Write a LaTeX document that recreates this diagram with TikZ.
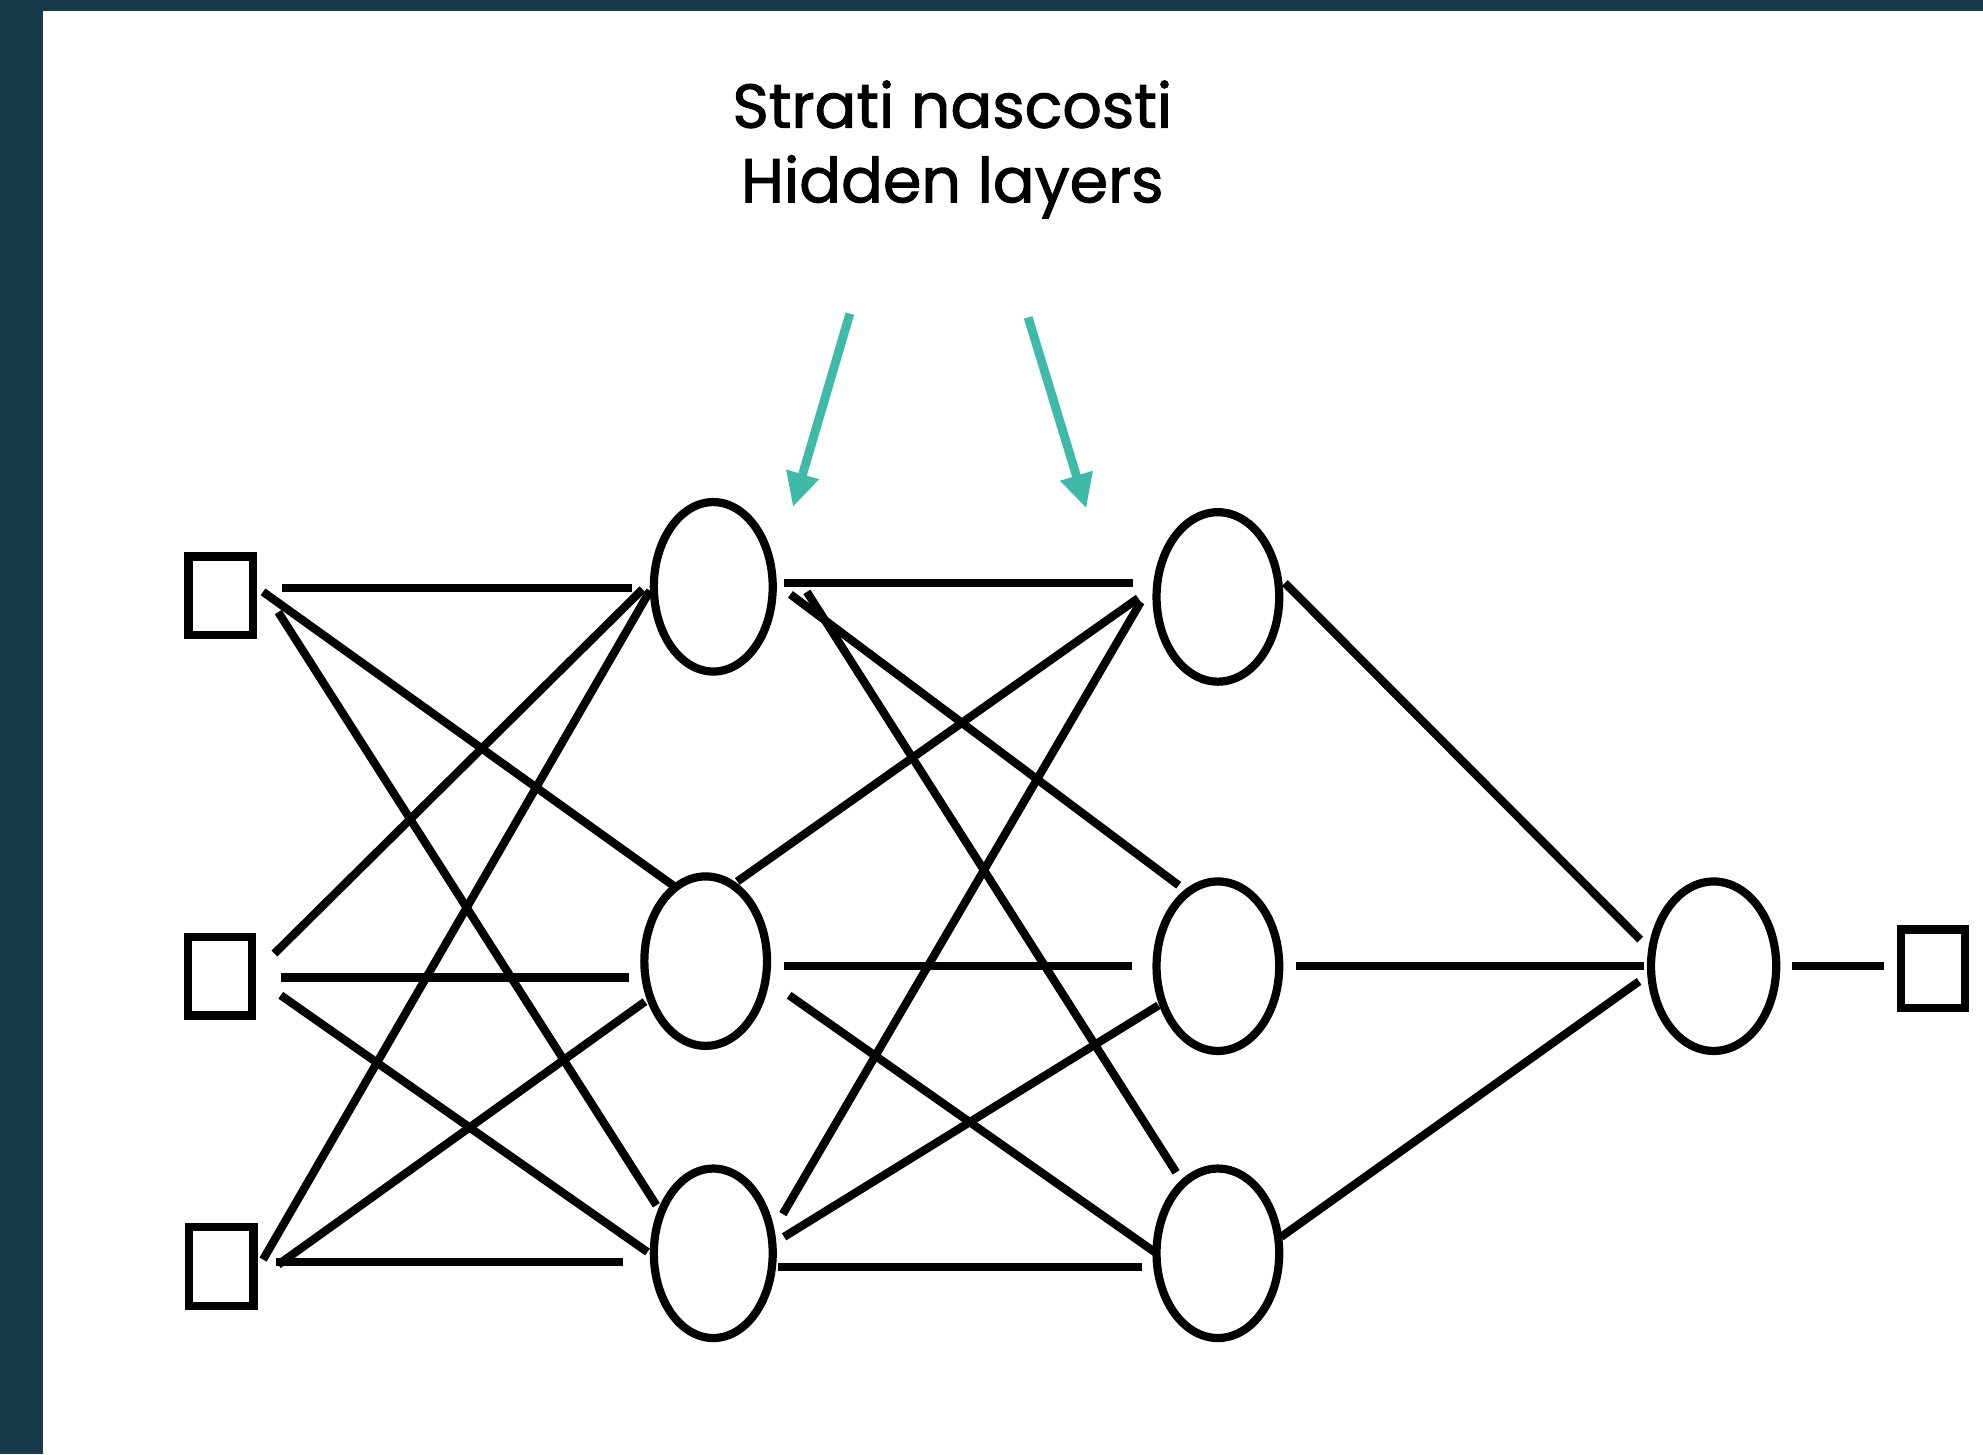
\documentclass[tikz,border=0pt]{standalone}
\usepackage{fontspec}
\setmainfont{Poppins}
\newfontfamily\titlefont{Poppins}[FakeBold=1.6]
\usetikzlibrary{shapes.geometric,arrows.meta}
\definecolor{bandcol}{RGB}{25,58,76}
\definecolor{teal}{RGB}{63,186,169}
\tikzset{
  neuron/.style={ellipse,draw=black,line width=6.5pt,inner sep=0pt,minimum width=94pt,minimum height=134pt},
  unit/.style={rectangle,draw=black,line width=6.5pt,inner sep=0pt,minimum width=51pt,minimum height=62pt},
  wire/.style={draw=black,line width=6.5pt},
  pointer/.style={draw=teal,line width=7pt,-{Triangle[length=27pt,width=25pt]}},
  title/.style={font=\titlefont\fontsize{49}{53}\selectfont,anchor=base}
}
\begin{document}
\begin{tikzpicture}[x=1pt,y=-1pt]
\fill[bandcol] (0,0) rectangle (1568,1150);
\fill[white] (34,9) rectangle (1568,1150);
\useasboundingbox (0,0) rectangle (1568,1150);
% title
\node[title] (t1) at (753,101) {Strati nascosti};
\node[title] (t2) at (753,160) {Hidden layers};
% input units
\node[unit] (in1) at (174.5,471) {};
\node[unit] (in2) at (174,772) {};
\node[unit] (in3) at (175,1001.5) {};
% hidden layer 1
\node[neuron] (ha) at (564,464) {};
\node[neuron,minimum width=97pt] (hb) at (558,760) {};
\node[neuron] (hc) at (564,991) {};
% hidden layer 2
\node[neuron,minimum width=97pt] (ka) at (963,472) {};
\node[neuron,minimum width=97pt] (kb) at (963,764) {};
\node[neuron,minimum width=97pt] (kc) at (963,991) {};
% output
\node[neuron,minimum width=99pt] (out) at (1355,764) {};
\node[unit] (res) at (1528.5,766) {};
% arrows
\coordinate (a1s) at (672,248); \coordinate (a1e) at (627,401);
\coordinate (a2s) at (813,251); \coordinate (a2e) at (859,402);
\draw[pointer] (a1s) -- (a1e);
\draw[pointer] (a2s) -- (a2e);
% wires input -> layer 1
\draw[wire] (223,465) -- (500,465);
\draw[wire] (208,468) -- (532,700);
\draw[wire] (220,484) -- (519,953);
\draw[wire] (217,754) -- (508,466);
\draw[wire] (222,773) -- (497,773);
\draw[wire] (222,787) -- (512,990);
\draw[wire] (208,996) -- (514,467);
\draw[wire] (220,1000) -- (510,792);
\draw[wire] (218,998) -- (493,998);
% layer 1 -> layer 2
\draw[wire] (620,461) -- (896,461);
\draw[wire] (625,470) -- (932,700);
\draw[wire] (638,468) -- (930,927);
\draw[wire] (583,697) -- (900,473);
\draw[wire] (620,764) -- (895,764);
\draw[wire] (624,787) -- (913,990);
\draw[wire] (619,960) -- (902,476);
\draw[wire] (620,978) -- (916,795);
\draw[wire] (615,1002) -- (903,1002);
% layer 2 -> output
\draw[wire] (1016,461) -- (1297,743);
\draw[wire] (1025,764) -- (1300,764);
\draw[wire] (1013,978) -- (1296,776);
\draw[wire] (1417,764) -- (1490,764);
\end{tikzpicture}
\end{document}
